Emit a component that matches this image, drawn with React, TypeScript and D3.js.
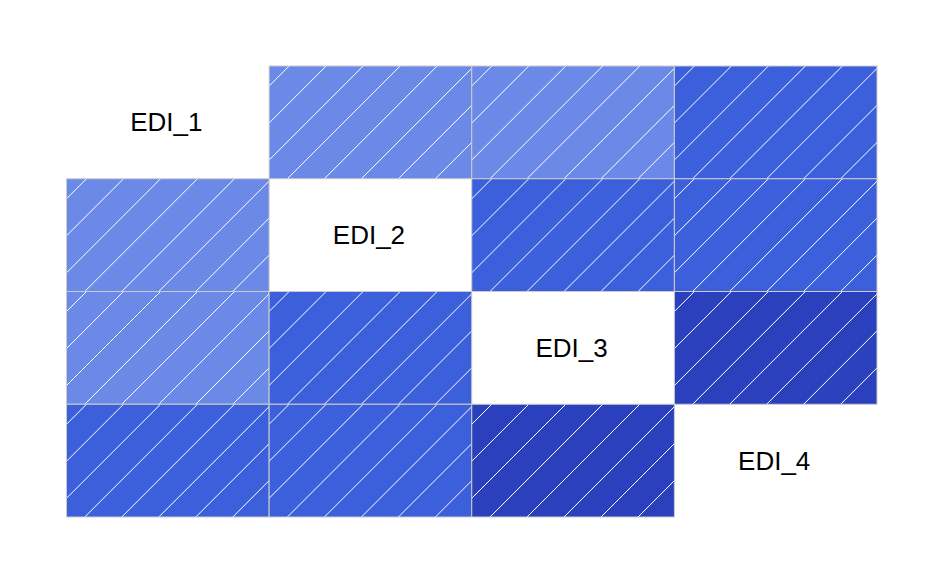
import React from 'react';
import * as d3 from 'd3';

const labels = ['EDI_1', 'EDI_2', 'EDI_3', 'EDI_4'];
// symmetric matrix, diagonal shown as label
const values: (number | null)[][] = [
  [null, 0.55, 0.55, 0.75],
  [0.55, null, 0.75, 0.75],
  [0.55, 0.75, null, 0.9],
  [0.75, 0.75, 0.9, null],
];
const shades = ['#6b89e6', '#3c5fdc', '#2a40bc'];

const width = 944;
const height = 584;
const margin = { top: 66, right: 67, bottom: 67, left: 66.5 };

const App: React.FC = () => {
  const x = d3.scaleBand<string>().domain(labels).range([margin.left, width - margin.right]);
  const y = d3.scaleBand<string>().domain(labels).range([margin.top, height - margin.bottom]);
  const color = d3.scaleQuantize<string>().domain([0.4, 1]).range(shades);
  const bw = x.bandwidth();
  const bh = y.bandwidth();
  const gap = 37;

  const cells: { r: number; c: number; v: number }[] = [];
  values.forEach((row, r) => row.forEach((v, c) => { if (v !== null) cells.push({ r, c, v }); }));

  return (
    <svg width={width} height={height} style={{ position: 'absolute', left: 0, top: 0 }}>
      <defs>
        {cells.map(d => (
          <clipPath key={`c${d.r}-${d.c}`} id={`clip-${d.r}-${d.c}`}>
            <rect x={x(labels[d.c])} y={y(labels[d.r])} width={bw} height={bh} />
          </clipPath>
        ))}
      </defs>
      {cells.map(d => {
        const x0 = x(labels[d.c]) as number;
        const y0 = y(labels[d.r]) as number;
        const lines = d3.range(x0 + y0 + 20, x0 + y0 + bw + bh, gap);
        return (
          <g key={`g${d.r}-${d.c}`}>
            <rect x={x0} y={y0} width={bw} height={bh} fill={color(d.v)} />
            <g clipPath={`url(#clip-${d.r}-${d.c})`}>
              {lines.map((k, i) => (
                <line key={i} x1={k - (y0 + bh)} y1={y0 + bh} x2={k - y0} y2={y0}
                  stroke="#fff" strokeWidth={1} />
              ))}
            </g>
            <rect x={x0} y={y0} width={bw} height={bh} fill="none" stroke="#cccccc" strokeWidth={1} />
          </g>
        );
      })}
      {labels.map(l => (
        <text key={l} x={(x(l) as number) + bw / 2 - 1.5} y={(y(l) as number) + bh / 2}
          textAnchor="middle" dominantBaseline="central"
          fontFamily="Liberation Sans, Arial, sans-serif" fontSize={26} fill="#000">
          {l}
        </text>
      ))}
    </svg>
  );
};

export default App;
